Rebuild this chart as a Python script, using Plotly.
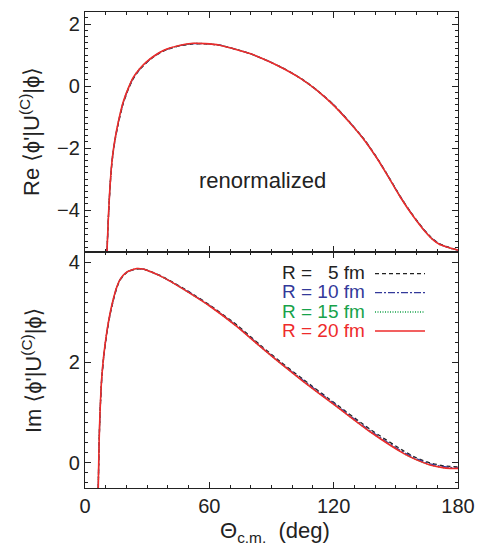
import plotly.graph_objects as go

# ---- data ----
re_theta = [10.6, 11.3, 12.0, 12.7, 13.4, 14.5, 16.1, 18.5, 21.0, 23.3, 26.5, 29.8, 33.5, 37.8,
            45.0, 52.3, 58.0, 65.0, 72.0, 79.6, 88.0, 95.7, 104.0, 111.8, 120.0, 127.9, 135.0,
            140.8, 145.6, 148.8, 152.0, 156.0, 160.0, 164.0, 168.0, 171.0, 174.6, 177.0, 180.0]
re_r5 = [-5.35, -4.25, -3.35, -2.70, -2.25, -1.75, -1.20, -0.55, -0.09, 0.24, 0.54, 0.76, 0.96, 1.13,
         1.29, 1.36, 1.36, 1.32, 1.20, 1.05, 0.82, 0.58, 0.26, -0.12, -0.60, -1.17, -1.74,
         -2.30, -2.82, -3.18, -3.54, -3.95, -4.32, -4.66, -4.94, -5.08, -5.18, -5.23, -5.28]
re_r10 = [-5.35, -4.22, -3.32, -2.67, -2.22, -1.72, -1.17, -0.52, -0.07, 0.26, 0.55, 0.77, 0.97, 1.14,
          1.30, 1.37, 1.37, 1.32, 1.20, 1.05, 0.82, 0.57, 0.25, -0.13, -0.61, -1.18, -1.75,
          -2.31, -2.83, -3.19, -3.55, -3.96, -4.33, -4.67, -4.95, -5.09, -5.19, -5.24, -5.29]
re_r15 = [-5.35, -4.20, -3.30, -2.65, -2.20, -1.70, -1.15, -0.50, -0.05, 0.28, 0.57, 0.79, 0.98, 1.15,
          1.30, 1.38, 1.37, 1.32, 1.20, 1.05, 0.82, 0.57, 0.25, -0.13, -0.62, -1.19, -1.76,
          -2.32, -2.84, -3.20, -3.56, -3.97, -4.34, -4.68, -4.96, -5.10, -5.19, -5.24, -5.29]
re_r20 = [-5.35, -4.20, -3.30, -2.65, -2.20, -1.70, -1.15, -0.50, -0.05, 0.28, 0.57, 0.79, 0.98, 1.15,
          1.30, 1.38, 1.37, 1.32, 1.20, 1.05, 0.82, 0.57, 0.25, -0.13, -0.62, -1.19, -1.76,
          -2.32, -2.84, -3.20, -3.56, -3.97, -4.34, -4.68, -4.96, -5.10, -5.19, -5.24, -5.29]

im_theta = [6.4, 6.8, 7.2, 8.0, 9.0, 10.5, 12.1, 13.7, 15.3, 16.9, 20.1, 24.9, 28.0, 31.4, 36.0,
            41.0, 49.0, 60.3, 73.2, 84.5, 94.1, 105.4, 121.5, 137.6, 153.7, 160.0, 166.5, 172.0,
            176.2, 180.0]
im_r5 = [-0.50, 0.36, 0.92, 1.62, 2.09, 2.57, 2.95, 3.24, 3.48, 3.64, 3.79, 3.86, 3.86, 3.82, 3.74,
         3.63, 3.44, 3.14, 2.75, 2.35, 2.02, 1.66, 1.16, 0.67, 0.24, 0.10, 0.00, -0.05,
         -0.07, -0.08]
im_r10 = [-0.50, 0.38, 0.94, 1.64, 2.11, 2.59, 2.97, 3.26, 3.49, 3.65, 3.80, 3.87, 3.86, 3.81, 3.73,
          3.62, 3.43, 3.13, 2.73, 2.33, 2.00, 1.64, 1.14, 0.64, 0.21, 0.08, -0.02, -0.07,
          -0.09, -0.10]
im_r15 = [-0.50, 0.40, 0.95, 1.65, 2.12, 2.60, 2.98, 3.27, 3.50, 3.65, 3.80, 3.87, 3.86, 3.81, 3.73,
          3.62, 3.42, 3.12, 2.72, 2.32, 1.99, 1.62, 1.12, 0.62, 0.19, 0.06, -0.04, -0.09,
          -0.11, -0.11]
im_r20 = [-0.50, 0.40, 0.95, 1.65, 2.12, 2.60, 2.98, 3.27, 3.50, 3.65, 3.80, 3.87, 3.86, 3.81, 3.73,
          3.62, 3.42, 3.12, 2.72, 2.32, 1.99, 1.62, 1.12, 0.62, 0.19, 0.06, -0.04, -0.09,
          -0.11, -0.11]

series_names = ["R = \u00a0\u00a05 fm", "R = 10 fm", "R = 15 fm", "R = 20 fm"]
series_colors = ["#222222", "#33399a", "#17a24a", "#ee2b2b"]
series_dash = ["4px,3px", "7px,2px,2px,2px", "1px,1.5px", "solid"]
series_width = [1.3, 1.3, 1.3, 1.6]

x_ticks = [0, 60, 120, 180]
re_ticks = [-4, -2, 0, 2]
im_ticks = [0, 2, 4]

# ---- figure ----
# the page body adds an 8px offset, so the figure is 8px smaller and margins shifted
OFF = 8
W, H = 486 - OFF, 548 - OFF
L, R, T, B = 85 - OFF, 28, 12 - OFF, 60
ph = H - T - B
split = (488 - 252) / ph

fig = go.Figure()
re_sets = [re_r5, re_r10, re_r15, re_r20]
im_sets = [im_r5, im_r10, im_r15, im_r20]
for i in range(4):
    fig.add_trace(go.Scatter(x=re_theta, y=re_sets[i], mode="lines", xaxis="x", yaxis="y",
                             line=dict(color=series_colors[i], dash=series_dash[i],
                                       width=series_width[i], shape="spline", smoothing=0.6),
                             showlegend=False, hoverinfo="skip"))
    fig.add_trace(go.Scatter(x=im_theta, y=im_sets[i], mode="lines", xaxis="x2", yaxis="y2",
                             line=dict(color=series_colors[i], dash=series_dash[i],
                                       width=series_width[i], shape="spline", smoothing=0.6),
                             showlegend=False, hoverinfo="skip"))

font = "Liberation Sans, Arial, DejaVu Sans, sans-serif"
axis_common = dict(showline=True, linecolor="#222", linewidth=1.2, mirror="allticks",
                   ticks="inside", ticklen=6, tickwidth=1.2, tickcolor="#222",
                   showgrid=False, zeroline=False,
                   tickfont=dict(family=font, size=20, color="#222"))

fig.update_layout(
    width=W, height=H, margin=dict(l=L, r=R, t=T, b=B),
    paper_bgcolor="white", plot_bgcolor="white",
    showlegend=False,
    xaxis=dict(axis_common, domain=[0, 1], range=[0, 180], anchor="y", tickvals=x_ticks,
               showticklabels=False, matches="x2",
               minor=dict(ticks="inside", dtick=10, ticklen=3, tickcolor="#222", showgrid=False)),
    yaxis=dict(axis_common, domain=[split, 1], range=[-5.35, 2.39], anchor="x", tickvals=re_ticks,
               minor=dict(ticks="inside", dtick=0.2, tick0=0, ticklen=3, tickcolor="#222", showgrid=False)),
    xaxis2=dict(axis_common, domain=[0, 1], range=[0, 180], anchor="y2", tickvals=x_ticks,
                minor=dict(ticks="inside", dtick=10, ticklen=3, tickcolor="#222", showgrid=False)),
    yaxis2=dict(axis_common, domain=[0, split], range=[-0.5, 4.2], anchor="x2", tickvals=im_ticks,
                minor=dict(ticks="inside", dtick=0.2, tick0=0, ticklen=3, tickcolor="#222", showgrid=False)),
)

# helpers: convert window pixels of the reference into paper coordinates
def px_x(p):
    return (p - 85) / (W - L - R)

def px_y(p):
    return (488 - p) / ph

ann = []
ann.append(dict(text="Re \u27e8\u03d5'|U<sup>(C)</sup>|\u03d5\u27e9", x=px_x(30), y=px_y(132),
                xref="paper", yref="paper", textangle=-90, showarrow=False,
                font=dict(family=font, size=22, color="#222"), xanchor="center", yanchor="middle"))
ann.append(dict(text="Im \u27e8\u03d5'|U<sup>(C)</sup>|\u03d5\u27e9", x=px_x(32), y=px_y(370),
                xref="paper", yref="paper", textangle=-90, showarrow=False,
                font=dict(family=font, size=22, color="#222"), xanchor="center", yanchor="middle"))
ann.append(dict(text="\u0398<sub>c.m.</sub>  (deg)", x=px_x(275), y=px_y(532),
                xref="paper", yref="paper", showarrow=False,
                font=dict(family=font, size=22, color="#222"), xanchor="center", yanchor="middle"))
ann.append(dict(text="renormalized", x=px_x(262), y=px_y(181),
                xref="paper", yref="paper", showarrow=False,
                font=dict(family=font, size=22, color="#222"), xanchor="center", yanchor="middle"))

rows = [272.7, 291.7, 311.0, 330.0]
shapes = []
for i in range(4):
    ann.append(dict(text=series_names[i], x=px_x(280), y=px_y(rows[i]), xref="paper", yref="paper",
                    showarrow=False, xanchor="left", yanchor="middle",
                    font=dict(family=font, size=19, color=series_colors[i])))
    shapes.append(dict(type="line", xref="paper", yref="paper",
                       x0=px_x(375), x1=px_x(425), y0=px_y(rows[i] + 1), y1=px_y(rows[i] + 1),
                       line=dict(color=series_colors[i], dash=series_dash[i], width=series_width[i])))

fig.update_layout(annotations=ann, shapes=shapes)
fig.write_html("out.html")
